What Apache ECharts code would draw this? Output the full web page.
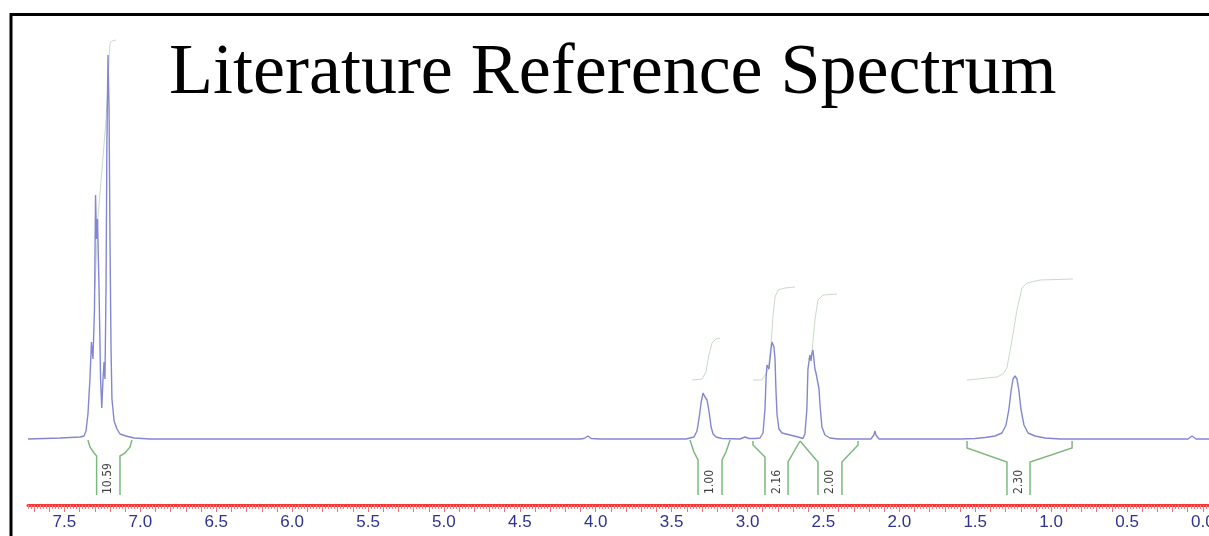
<!DOCTYPE html>
<html>
<head>
<meta charset="utf-8">
<title>Literature Reference Spectrum</title>
<script src="https://cdn.jsdelivr.net/npm/echarts@6/dist/echarts.min.js"></script>
<style>
  html, body { margin: 0; padding: 0; background: #fff; }
  #chart { width: 1209px; height: 536px; }
</style>
</head>
<body>
<div id="chart"></div>
<script>
// chemical shift (ppm) and intensity
const shiftPpm = [
  7.740, 7.529, 7.397, 7.371, 7.358, 7.345, 7.332, 7.322, 7.312, 7.302,
  7.295, 7.289, 7.282, 7.272, 7.262, 7.254, 7.246, 7.239, 7.233, 7.226,
  7.220, 7.213, 7.206, 7.200, 7.193, 7.187, 7.173, 7.154, 7.134, 7.094,
  7.042, 6.936, 5.948, 4.104, 4.077, 4.051, 4.031, 3.972,
  3.405, 3.379, 3.353, 3.333, 3.320, 3.306, 3.293, 3.280, 3.267, 3.254,
  3.240, 3.227, 3.207, 3.168, 3.050, 3.017, 2.990, 2.951,
  2.918, 2.898, 2.885, 2.878, 2.872, 2.859, 2.845, 2.839, 2.826, 2.819,
  2.813, 2.806, 2.793, 2.773, 2.720, 2.667, 2.635,
  2.622, 2.609, 2.602, 2.589, 2.582, 2.576, 2.569, 2.556, 2.549, 2.536,
  2.529, 2.523, 2.510, 2.490, 2.457, 2.404,
  2.187, 2.168, 2.161, 2.154, 2.134,
  1.600, 1.502, 1.436, 1.370, 1.324, 1.297, 1.278, 1.264, 1.251, 1.238,
  1.225, 1.212, 1.199, 1.179, 1.152, 1.106, 1.040, 0.941,
  0.098, 0.072, 0.045, -0.040
];
const intensity = [
  0, 1, 2, 3, 8, 25, 60, 97, 80, 130,
  244, 200, 220, 150, 60, 31, 60, 77, 60, 150,
  300, 384, 330, 200, 90, 40, 18, 10, 5, 3,
  1, 0, 0, 0, 0.5, 3, 0.5, 0,
  0, 1, 2, 8, 20, 36, 46, 42, 39, 28,
  12, 5, 2, 0.5, 0, 2, 0.5, 0.5,
  1, 6, 30, 60, 74, 70, 90, 97, 92, 80,
  50, 25, 10, 6, 4, 2, 0.5,
  5, 30, 70, 84, 78, 85, 89, 70, 66, 64,
  50, 35, 12, 4, 1, 0,
  0, 4, 8, 4, 0,
  0, 0.5, 1.5, 3, 6, 14, 30, 48, 60, 63,
  60, 48, 30, 14, 6, 3, 1, 0,
  0, 3, 0, 0
];

// integral traces [ppm, level]
const integralAromatic = [[7.299, 150], [7.279, 222], [7.253, 269], [7.226, 319], [7.200, 396], [7.187, 398], [7.160, 399]];
const integral100 = [[3.366, 59], [3.300, 60], [3.274, 67], [3.254, 84], [3.234, 96], [3.208, 100], [3.181, 101]];
const integral216 = [[2.964, 59], [2.905, 59], [2.865, 69], [2.845, 94], [2.832, 124], [2.819, 142], [2.799, 149], [2.753, 151], [2.687, 152]];
const integral200 = [[2.602, 79], [2.576, 86], [2.556, 119], [2.536, 139], [2.503, 144], [2.411, 145]];
const integral230 = [[1.554, 59], [1.356, 62], [1.317, 65], [1.291, 71], [1.258, 99], [1.225, 129], [1.192, 151], [1.159, 156], [1.073, 159], [0.856, 160]];

// integration brackets under the baseline
const bracket1059 = [
  [[7.345, -1], [7.332, -8], [7.305, -14], [7.288, -17], [7.288, -56]],
  [[7.055, -1], [7.068, -8], [7.101, -14], [7.134, -17], [7.134, -56]]
];
const bracket100 = [
  [[3.379, -1], [3.353, -13], [3.326, -21], [3.326, -56]],
  [[3.115, -1], [3.142, -13], [3.168, -21], [3.168, -56]]
];
const bracket216 = [
  [[2.964, -2], [2.964, -6], [2.885, -18], [2.885, -56]],
  [[2.654, -2], [2.733, -23], [2.733, -56]]
];
const bracket200 = [
  [[2.654, -2], [2.536, -23], [2.536, -56]],
  [[2.272, -2], [2.272, -6], [2.378, -23], [2.378, -56]]
];
const bracket230 = [
  [[1.554, -2], [1.554, -9], [1.291, -23], [1.291, -56]],
  [[0.862, -2], [0.862, -9], [1.139, -23], [1.139, -56]]
];

const integralValues = ['10.59', '1.00', '2.16', '2.00', '2.30'];
const integralPos = [7.211, 3.247, 2.809, 2.457, 1.215];

const tickLabels = [0.0, 0.5, 1.0, 1.5, 2.0, 2.5, 3.0, 3.5, 4.0, 4.5, 5.0, 5.5, 6.0, 6.5, 7.0, 7.5];

// red ruler ticks: long every 0.1, short every 0.02
const majorTicks = [];
for (let i = 0; i <= 77; i++) majorTicks.push(+(i * 0.1).toFixed(2));
const minorTicks = [];
for (let i = -2; i <= 387; i++) minorTicks.push(+(i * 0.02).toFixed(2));

const spectrum = shiftPpm.map((p, i) => [p, intensity[i]]);
const integrals = [integralAromatic, integral100, integral216, integral200, integral230];
const brackets = [bracket1059, bracket100, bracket216, bracket200, bracket230];

const chart = echarts.init(document.getElementById('chart'));

const xBase = {
  type: 'value',
  inverse: true,
  min: -0.04,
  max: 7.74,
  position: 'bottom',
  splitLine: { show: false }
};

const option = {
  backgroundColor: '#fff',
  animation: false,
  title: {
    text: 'Literature Reference Spectrum',
    left: 169,
    top: 38,
    padding: 0,
    textStyle: {
      fontFamily: 'Liberation Serif, Times New Roman, serif',
      fontSize: 72,
      fontWeight: 'normal',
      color: '#000'
    }
  },
  graphic: [{
    type: 'rect',
    shape: { x: 11, y: 14.5, width: 1400, height: 700 },
    style: { fill: 'none', stroke: '#000', lineWidth: 3 },
    z: 100
  }],
  grid: { left: 28, right: 0, top: 14, bottom: 31, containLabel: false, outerBoundsMode: 'none' },
  xAxis: [
    Object.assign({}, xBase, {
      axisLine: { show: true, onZero: false, lineStyle: { color: '#ff3535', width: 3 } },
      axisTick: { show: true, customValues: majorTicks, length: 7, lineStyle: { color: '#ff6a6a', width: 1 } },
      axisLabel: {
        customValues: tickLabels,
        formatter: v => v.toFixed(1),
        color: '#2f3290',
        fontSize: 17,
        fontFamily: 'Liberation Sans, Arial, sans-serif',
        margin: 9,
        hideOverlap: false
      }
    }),
    Object.assign({}, xBase, {
      axisLine: { show: false, onZero: false },
      axisTick: { show: true, customValues: minorTicks, length: 4, lineStyle: { color: '#ff8080', width: 1 } },
      axisLabel: { show: false }
    })
  ],
  yAxis: { type: 'value', min: -66, max: 425, show: false },
  series: [
    {
      type: 'lines',
      coordinateSystem: 'cartesian2d',
      polyline: true,
      silent: true,
      lineStyle: { color: '#c8dbc8', width: 1, opacity: 1 },
      data: integrals.map(c => ({ coords: c })),
      z: 1
    },
    {
      type: 'lines',
      coordinateSystem: 'cartesian2d',
      polyline: true,
      silent: true,
      lineStyle: { color: '#7db87d', width: 1.5, opacity: 1 },
      data: brackets.flat().map(c => ({ coords: c })),
      z: 2
    },
    {
      name: 'spectrum',
      type: 'line',
      data: spectrum,
      showSymbol: false,
      silent: true,
      lineStyle: { color: '#8387d2', width: 1.4 },
      z: 3
    },
    {
      type: 'scatter',
      symbolSize: 0,
      silent: true,
      data: integralValues.map((t, i) => [integralPos[i], -55, t]),
      label: {
        show: true,
        position: 'inside',
        rotate: 90,
        align: 'left',
        verticalAlign: 'middle',
        formatter: p => p.value[2],
        color: '#111',
        fontSize: 12,
        fontFamily: 'Liberation Sans Narrow, DejaVu Sans Condensed, Arial, sans-serif'
      },
      z: 4
    }
  ]
};

chart.setOption(option);

window.addEventListener('resize', function () {
  chart.resize();
});
</script>
</body>
</html>
